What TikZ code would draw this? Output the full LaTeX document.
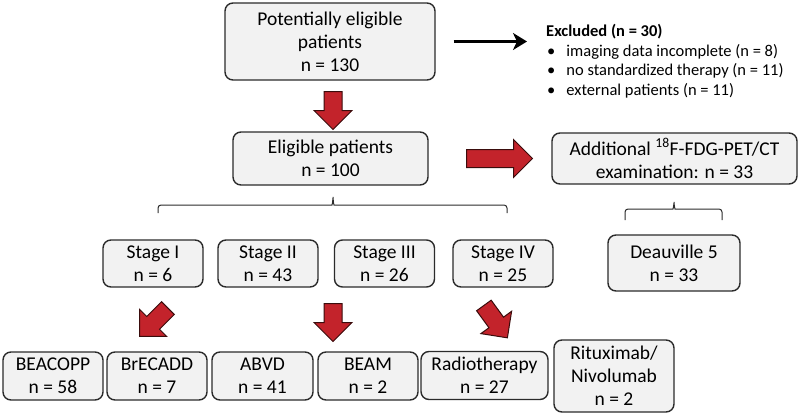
\documentclass[tikz,border=0pt]{standalone}
\usepackage{fontspec}
\setmainfont{Carlito}
\usetikzlibrary{shapes.arrows,arrows.meta}
\definecolor{boxfill}{HTML}{F2F2F2}
\definecolor{boxline}{HTML}{2B2B2B}
\definecolor{arrowred}{HTML}{C3232B}
\definecolor{arrowline}{HTML}{3A0C0C}
\newcommand{\bul}{\hspace{1pt}\textbullet\hspace{11pt}}
\begin{document}
\begin{tikzpicture}
  [x=1pt, y=-1pt,
   font=\fontsize{19.5}{23}\selectfont,
   box/.style={draw=boxline, fill=boxfill, rounded corners=8pt, line width=1.4pt,
     align=center, inner sep=0pt, minimum width=#1},
   box/.default=100pt,
   redarrow/.style={single arrow, draw=arrowline, fill=arrowred, line width=1pt,
     inner xsep=0pt, inner ysep=8.5pt, single arrow head extend=10pt, minimum height=#1},
   bracket/.style={draw=boxline, line width=1pt, rounded corners=3pt}]
  \useasboundingbox (0,0) rectangle (800,415);

  % screening
  \node[box=210pt, minimum height=77pt] (pot) at (330,41.5) {Potentially eligible\\patients\\n = 130};
  \node[anchor=north west, align=left, inner sep=0pt, font=\fontsize{16.5}{19.7}\selectfont] (excl) at (546,24)
    {\textbf{Excluded (n = 30)}\\
     \bul imaging data incomplete (n = 8)\\
     \bul no standardized therapy (n = 11)\\
     \bul external patients (n = 11)};
  \draw[line width=2.8pt, -{Stealth[length=14pt, width=17pt, inset=4pt]},
    shorten <=18pt, shorten >=19pt] (pot.east) -- (pot.east -| excl.west);

  \node[box=195pt, minimum height=53pt] (elig) at (330.5,158.5) {Eligible patients\\n = 100};
  \node[box=245pt, minimum height=51pt] (add) at (674.5,158.5) {Additional \textsuperscript{18}F-FDG-PET/CT\\examination: n = 33};
  \node[redarrow=38pt, rotate=-90] (a1) at (333,106) {};
  \node[redarrow=66pt] (a2) at (495,158.5) {};

  % stages
  \draw[bracket] (158,213) |- (329,205) .. controls (332,205) and (333,201) .. (333,195)
    .. controls (333,201) and (334,205) .. (337,205) -| (507,213);
  \node[box, minimum height=47pt] (s1) at (153,263.5) {Stage I\\n = 6};
  \node[box, minimum height=47pt] (s2) at (268,263.5) {Stage II\\n = 43};
  \node[box, minimum height=47pt] (s3) at (384.5,263.5) {Stage III\\n = 26};
  \node[box, minimum height=47pt] (s4) at (503,263.5) {Stage IV\\n = 25};
  \draw[bracket] (625,220) |- (670,209) .. controls (673,209) and (674,205) .. (674,200)
    .. controls (674,205) and (675,209) .. (678,209) -| (722,220);
  \node[box=132pt, minimum height=56pt] (deau) at (674,263) {Deauville 5\\n = 33};

  \node[redarrow=40pt, rotate=-135] (a3) at (157,319) {};
  \node[redarrow=38pt, rotate=-90] (a4) at (333,318) {};
  \node[redarrow=40pt, rotate=-54] (a5) at (493,318) {};

  % therapies
  \node[box, minimum height=48pt] (beacopp) at (53,376) {BEACOPP\\n = 58};
  \node[box, minimum height=48pt] (brecadd) at (157,376) {BrECADD\\n = 7};
  \node[box=101pt, minimum height=48pt] (abvd) at (262.5,376) {ABVD\\n = 41};
  \node[box, minimum height=48pt] (beam) at (368,376) {BEAM\\n = 2};
  \node[box=127pt, minimum height=48pt] (radio) at (484.5,375.5) {Radiotherapy\\n = 27};
  \node[box=120pt, minimum height=72pt] (ritux) at (614,376) {Rituximab/\\Nivolumab\\n = 2};
\end{tikzpicture}
\end{document}
